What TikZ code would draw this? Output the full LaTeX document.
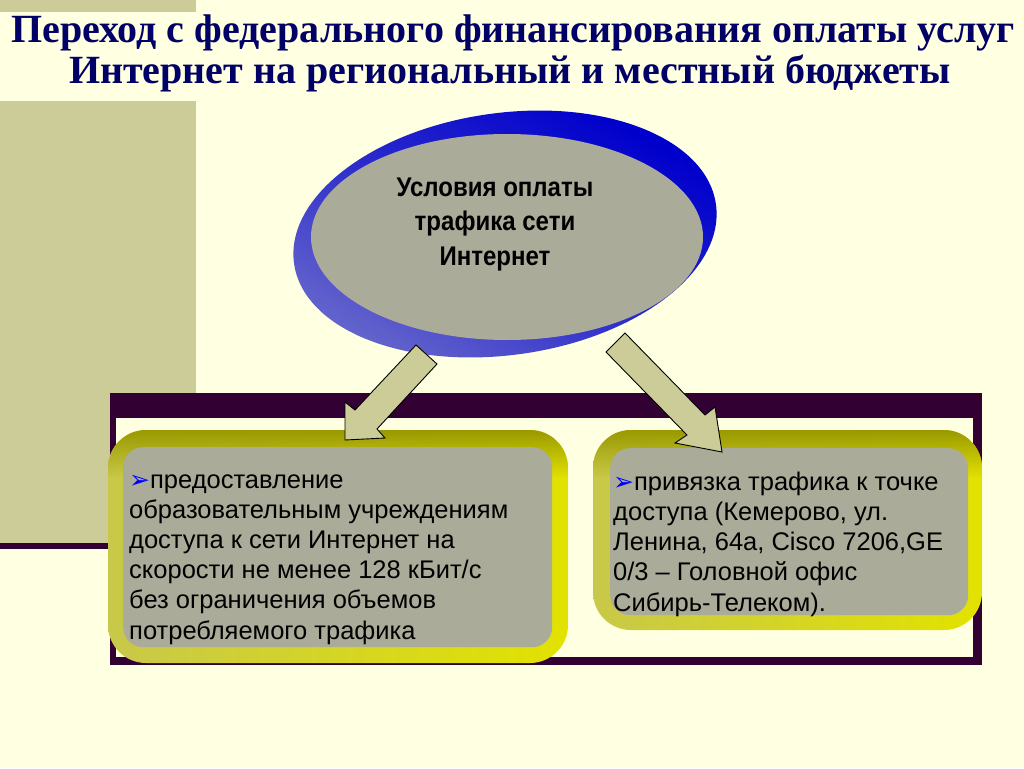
\documentclass[tikz,border=0pt]{standalone}
\usepackage{fontspec}
\setmainfont{Liberation Serif}
\setsansfont{Liberation Sans}
\newfontfamily\bodyfont{Liberation Sans}
\newfontfamily\narrowfont[FakeStretch=0.89]{Liberation Sans}
\newfontfamily\bulletfont{DejaVu Sans}
\usetikzlibrary{shapes.geometric,shadings}
\definecolor{bgcream}{HTML}{FFFFE1}
\definecolor{khaki}{HTML}{CCCC99}
\definecolor{framedark}{HTML}{330033}
\definecolor{titlenavy}{HTML}{000066}
\definecolor{boxgray}{HTML}{ABAB99}
\definecolor{oliveband}{HTML}{999900}
\definecolor{ylight}{HTML}{C8C84A}
\definecolor{ybright}{HTML}{E2E200}
\definecolor{bluedark}{HTML}{0000CC}
\definecolor{bluemid}{HTML}{2A2ACC}
\definecolor{bluelight}{HTML}{6666CC}
\definecolor{arrowfill}{HTML}{CCCC99}
\definecolor{bulletblue}{HTML}{0000FF}
\newcommand{\bul}{{\bulletfont\fontsize{25}{25}\selectfont\color{bulletblue}➢}}
\begin{document}
\begin{tikzpicture}[x=1pt,y=-1pt,
  titletext/.style={font=\rmfamily\bfseries\fontsize{40}{44}\selectfont, text=titlenavy, inner sep=0pt, anchor=base},
  condtext/.style={font=\narrowfont\bfseries\fontsize{27}{34.5}\selectfont, align=center, inner sep=0pt, anchor=base},
  bodytext/.style={font=\bodyfont\fontsize{25.5}{30.2}\selectfont, align=left, inner sep=0pt, anchor=base west},
  graybox/.style={fill=boxgray, rounded corners=20pt, inner sep=0pt, anchor=north west},
  blockarrow/.style={fill=arrowfill, draw=black, line width=0.9pt, line join=miter}
]
\useasboundingbox (0,0) rectangle (1024,768);
\fill[bgcream] (0,0) rectangle (1024,768);
% khaki panels
\fill[khaki] (0,0) rectangle (196,12);
\fill[khaki] (0,101) rectangle (196,543);
\fill[framedark] (0,543) rectangle (112,549);
% frame
\fill[framedark] (110,393) rectangle (982,665);
\fill[bgcream] (116,418) rectangle (973,657);
% title
\node[titletext] (title1) at (513,42) {Переход с федерального финансирования оплаты услуг};
\node[titletext] (title2) at (510,83) {Интернет на региональный и местный бюджеты};
% ellipse
\shade[top color=bluedark, bottom color=bluelight, middle color=bluemid, shading angle=-30]
  (505,234) ellipse [x radius=213, y radius=121, rotate=8];
\node[ellipse, fill=boxgray, minimum width=392pt, minimum height=206pt, inner sep=0pt] (cond) at (507,237) {};
\node[condtext] (condlabel) at (495,265) {Условия оплаты\\трафика сети\\Интернет};
% left box
\begin{scope}
\clip[rounded corners=38pt] (108,430) rectangle (568,663);
\shade[left color=ylight, right color=ybright] (108,430) rectangle (568,663);
\shade[upper left=oliveband, upper right=oliveband, lower left=ylight, lower right=ybright] (108,430) rectangle (568,478);
\end{scope}
\node[graybox, minimum width=429pt, minimum height=200pt] (leftbox) at (123,447) {};
\node[bodytext] (lefttext) at (129,639) {\bul предоставление\\образовательным учреждениям\\доступа к сети Интернет на\\скорости не менее 128 кБит/с\\без ограничения объемов\\потребляемого трафика};
% right box
\begin{scope}
\clip[rounded corners=38pt] (593,430) rectangle (982,630);
\shade[left color=ylight, right color=ybright] (593,430) rectangle (982,630);
\shade[upper left=oliveband, upper right=oliveband, lower left=ylight, lower right=ybright] (593,430) rectangle (982,478);
\end{scope}
\node[graybox, minimum width=358pt, minimum height=167pt] (rightbox) at (610,448) {};
\node[bodytext] (righttext) at (613,611) {\bul привязка трафика к точке\\доступа (Кемерово, ул.\\Ленина, 64а, Cisco 7206,GE\\0/3 – Головной офис\\Сибирь-Телеком).};
% block arrows
\filldraw[blockarrow] (416,345) -- (355,410) -- (345,402) -- (345,440) -- (385,438) -- (377,429) -- (437,364) -- cycle;
\filldraw[blockarrow] (625,333) -- (705,415) -- (715,407) -- (722,452) -- (675,443) -- (687,435) -- (606,352) -- cycle;
\end{tikzpicture}
\end{document}
